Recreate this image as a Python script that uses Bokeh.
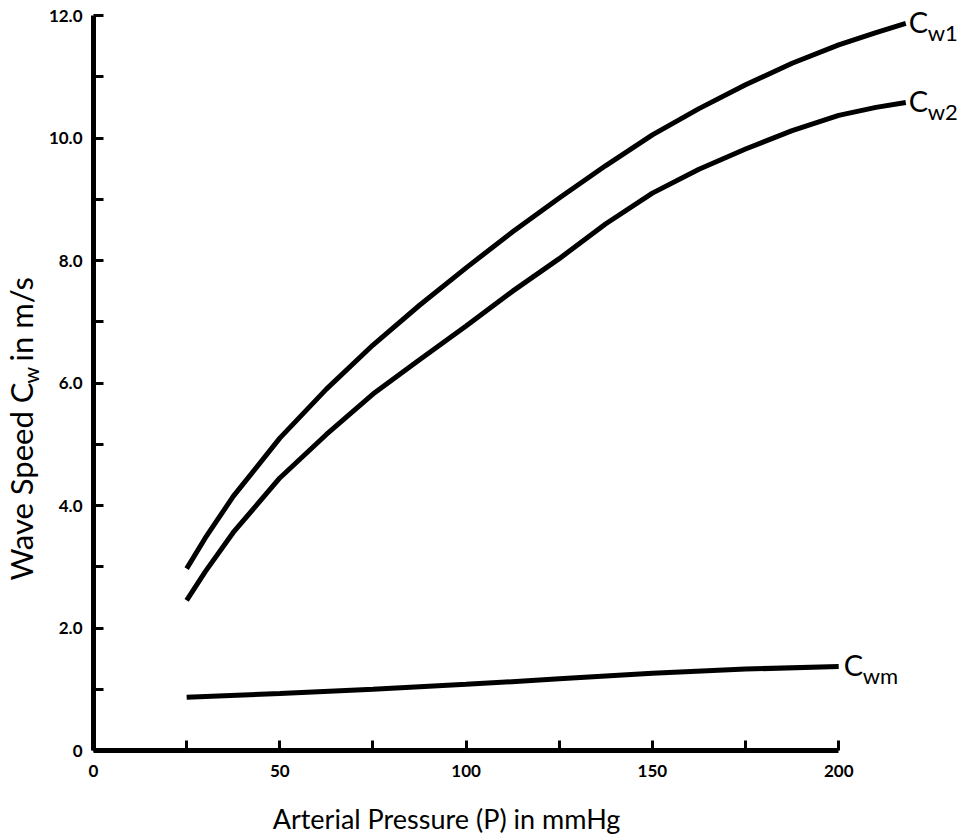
import math
from bokeh.plotting import figure
from bokeh.models import FixedTicker, Label, Range1d
from bokeh.embed import file_html
from bokeh.resources import INLINE

# ---- data ----
pressure = [25, 30, 37.5, 50, 62.5, 75, 87.5, 100, 112.5, 125, 137.5, 150,
            162.5, 175, 187.5, 200, 210, 218]
cw1 = [2.97, 3.47, 4.15, 5.1, 5.9, 6.62, 7.27, 7.88, 8.47, 9.02, 9.55, 10.05,
       10.48, 10.87, 11.22, 11.52, 11.72, 11.87]
cw2 = [2.45, 2.92, 3.56, 4.45, 5.16, 5.82, 6.38, 6.93, 7.5, 8.03, 8.6, 9.1,
       9.49, 9.82, 10.12, 10.37, 10.5, 10.58]
pressure_m = [25, 50, 75, 100, 125, 150, 175, 200]
cwm = [0.87, 0.93, 1.0, 1.08, 1.17, 1.26, 1.33, 1.37]

x_ticks = [0, 25, 50, 75, 100, 125, 150, 175, 200]
x_tick_labels = {0: "0", 25: "", 50: "50", 75: "", 100: "100", 125: "",
                 150: "150", 175: "", 200: "200"}
y_ticks = [0, 1, 2, 3, 4, 5, 6, 7, 8, 9, 10, 11, 12]
y_tick_labels = {0: "0", 1: "", 2: "2.0", 3: "", 4: "4.0", 5: "", 6: "6.0",
                 7: "", 8: "8.0", 9: "", 10: "10.0", 11: "", 12: "12.0"}

x_title = "Arterial Pressure (P) in mmHg"
y_title_parts = ["Wave Speed C", "w", "in  m/s"]
curve_names = [("C", "w1"), ("C", "w2"), ("C", "wm")]

FONT = "Lato"

# the frame fills the whole canvas; the axes sit at the data origin
p = figure(width=976, height=840, output_backend="svg", toolbar_location=None,
           x_range=Range1d(-24.96, 236.98), y_range=Range1d(-1.469, 12.245),
           min_border_left=0, min_border_bottom=0, min_border_top=0,
           min_border_right=0)
p.outline_line_color = None
p.grid.visible = False
p.background_fill_color = "white"

for ax in (p.xaxis[0], p.yaxis[0]):
    ax.fixed_location = 0
    ax.axis_line_width = 5
    ax.axis_line_color = "black"
    ax.major_tick_line_width = 3
    ax.major_tick_in = 10
    ax.major_tick_out = 0
    ax.minor_tick_line_color = None
    ax.major_label_text_font = FONT
    ax.major_label_text_font_size = "17px"
    ax.major_label_text_font_style = "bold"
    ax.major_label_text_color = "black"

p.xaxis.ticker = FixedTicker(ticks=x_ticks)
p.xaxis.major_label_overrides = x_tick_labels
p.xaxis.bounds = (0, 200)
p.xaxis.major_label_standoff = 14
p.yaxis.ticker = FixedTicker(ticks=y_ticks)
p.yaxis.major_label_overrides = y_tick_labels
p.yaxis.bounds = (0, 12)
p.yaxis.major_label_standoff = 11

p.line(pressure, cw1, line_width=5, line_color="black")
p.line(pressure, cw2, line_width=5, line_color="black")
p.line(pressure_m, cwm, line_width=5, line_color="black")

ends = [(pressure[-1], cw1[-1], 3), (pressure[-1], cw2[-1], 3),
        (pressure_m[-1], cwm[-1], 5)]
for (main, sub), (ex, ey, off) in zip(curve_names, ends):
    p.add_layout(Label(x=ex, y=ey, x_offset=off, y_offset=2, text=main,
                       text_font=FONT, text_font_size="29px",
                       text_baseline="middle", text_align="left",
                       text_color="black"))
    p.add_layout(Label(x=ex, y=ey, x_offset=off + 19, y_offset=-9, text=sub,
                       text_font=FONT, text_font_size="22px",
                       text_baseline="middle", text_align="left",
                       text_color="black"))

# axis titles
p.add_layout(Label(x=94.74, y=-1.11, text=x_title, text_font=FONT,
                   text_font_size="27px", text_align="center",
                   text_baseline="alphabetic", text_color="black"))
p.add_layout(Label(x=-19.58, y=2.776, text=y_title_parts[0], text_font=FONT,
                   text_font_size="31px", text_align="left",
                   text_baseline="alphabetic", angle=math.pi / 2,
                   text_color="black"))
p.add_layout(Label(x=-16.91, y=5.992, text=y_title_parts[1], text_font=FONT,
                   text_font_size="21px", text_align="left",
                   text_baseline="alphabetic", angle=math.pi / 2,
                   text_color="black"))
p.add_layout(Label(x=-19.58, y=6.351, text=y_title_parts[2], text_font=FONT,
                   text_font_size="31px", text_align="left",
                   text_baseline="alphabetic", angle=math.pi / 2,
                   text_color="black"))

open("out.html", "w").write(file_html(p, INLINE))
